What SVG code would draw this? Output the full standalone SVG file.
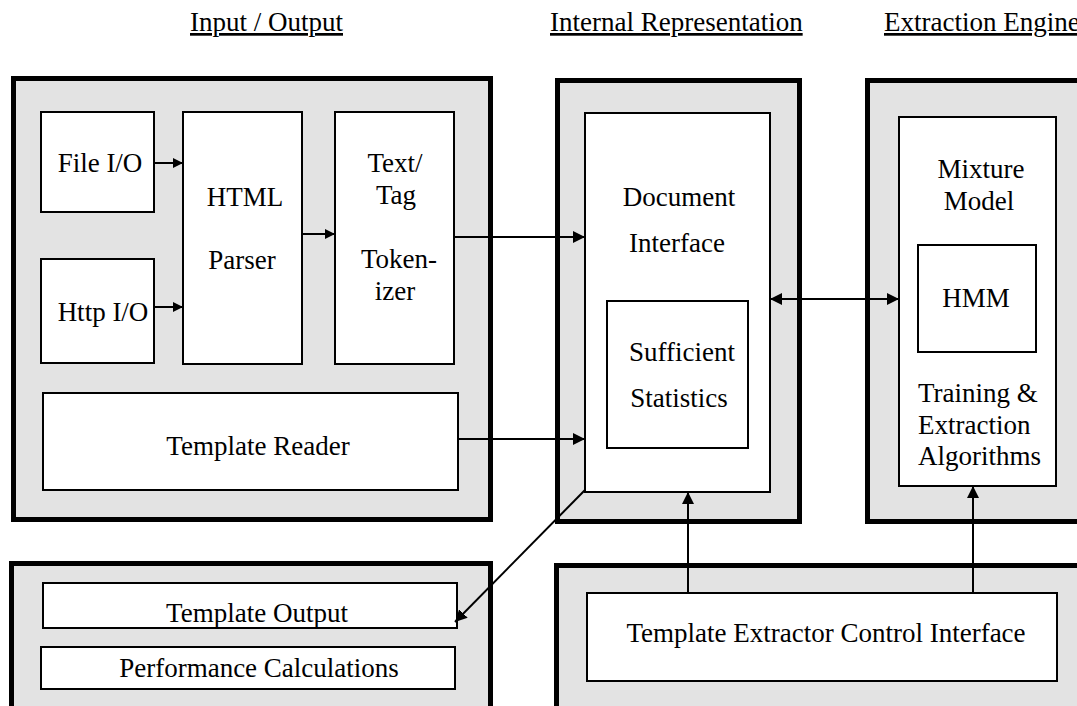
<svg xmlns="http://www.w3.org/2000/svg" width="1077" height="706" viewBox="0 0 1077 706">
<style>
text{font-family:"Liberation Serif","Times New Roman",serif;font-size:27px;fill:#000}
.m{text-anchor:middle}
.title{text-decoration:underline}
.panel{fill:#e3e3e3;stroke:#000;stroke-width:5}
.box{fill:#fff;stroke:#000;stroke-width:2}
.conn{fill:none;stroke:#000;stroke-width:2}
</style>
<defs>
<marker id="ah" viewBox="0 0 12 12" refX="12" refY="6" markerWidth="12" markerHeight="12" markerUnits="userSpaceOnUse" orient="auto-start-reverse"><path d="M0,0 L12,6 L0,12 z" fill="#000"/></marker>
<marker id="ahs" viewBox="0 0 10 10" refX="10" refY="5" markerWidth="10" markerHeight="10" markerUnits="userSpaceOnUse" orient="auto"><path d="M0,0 L10,5 L0,10 z" fill="#000"/></marker>
</defs>
<rect width="1077" height="706" fill="#fff"/>
<g id="titles">
<text class="title" x="190" y="31">Input / Output</text>
<text class="title" x="550" y="31">Internal Representation</text>
<text class="title" x="884" y="31">Extraction Engine</text>
</g>
<g id="io-panel"><rect class="panel" x="13.5" y="78.5" width="477" height="441"/></g>
<g id="internal-panel"><rect class="panel" x="557.5" y="80.5" width="242" height="441"/></g>
<g id="engine-panel"><rect class="panel" x="867.5" y="80.5" width="300" height="441"/></g>
<g id="output-panel"><rect class="panel" x="11.5" y="563.5" width="479" height="200"/></g>
<g id="control-panel"><rect class="panel" x="556.5" y="565.5" width="600" height="200"/></g>
<g id="file-io"><rect class="box" x="41" y="112" width="113" height="100"/><text class="m" x="100" y="172">File I/O</text></g>
<g id="http-io"><rect class="box" x="41" y="259" width="113" height="104"/><text class="m" x="103" y="321">Http I/O</text></g>
<g id="html-parser"><rect class="box" x="183" y="112" width="119" height="252"/><text class="m" x="245" y="206">HTML</text><text class="m" x="242" y="269">Parser</text></g>
<g id="tokenizer"><rect class="box" x="335" y="112" width="119" height="252"/><text class="m" x="395" y="172">Text/</text><text class="m" x="396" y="204">Tag</text><text class="m" x="399" y="268">Token-</text><text class="m" x="395" y="300">izer</text></g>
<g id="template-reader"><rect class="box" x="43" y="393" width="415" height="97"/><text class="m" x="258" y="455">Template Reader</text></g>
<g id="document-interface"><rect class="box" x="585" y="113" width="185" height="379"/><text class="m" x="679" y="206">Document</text><text class="m" x="677" y="252">Interface</text></g>
<g id="sufficient-statistics"><rect class="box" x="607" y="301" width="141" height="147"/><text class="m" x="682" y="361">Sufficient</text><text class="m" x="679" y="407">Statistics</text></g>
<g id="mixture-model"><rect class="box" x="899" y="117" width="157" height="369"/><text class="m" x="981" y="178">Mixture</text><text class="m" x="979" y="210">Model</text><text x="918" y="402">Training &amp;</text><text x="918" y="434">Extraction</text><text x="918" y="465">Algorithms</text></g>
<g id="hmm"><rect class="box" x="918" y="245" width="118" height="107"/><text class="m" x="976" y="307">HMM</text></g>
<g id="template-output"><rect class="box" x="43" y="583" width="414" height="45"/><text class="m" x="257" y="622">Template Output</text></g>
<g id="performance-calculations"><rect class="box" x="41" y="647" width="414" height="42"/><text class="m" x="259" y="677">Performance Calculations</text></g>
<g id="control-interface"><rect class="box" x="587" y="593" width="470" height="88"/><text class="m" x="826" y="642">Template Extractor Control Interface</text></g>
<g id="connectors">
<path class="conn" d="M154,163 L183,163" marker-end="url(#ahs)"/>
<path class="conn" d="M154,307 L183,307" marker-end="url(#ahs)"/>
<path class="conn" d="M302,234 L335,234" marker-end="url(#ahs)"/>
<path class="conn" d="M454,237 L585,237" marker-end="url(#ah)"/>
<path class="conn" d="M458,439 L585,439" marker-end="url(#ah)"/>
<path class="conn" d="M770,299 L899,299" marker-start="url(#ah)" marker-end="url(#ah)"/>
<path class="conn" d="M585,490 L455,622" marker-end="url(#ah)"/>
<path class="conn" d="M688,593 L688,492" marker-end="url(#ah)"/>
<path class="conn" d="M973,593 L973,486" marker-end="url(#ah)"/>
</g>
</svg>
